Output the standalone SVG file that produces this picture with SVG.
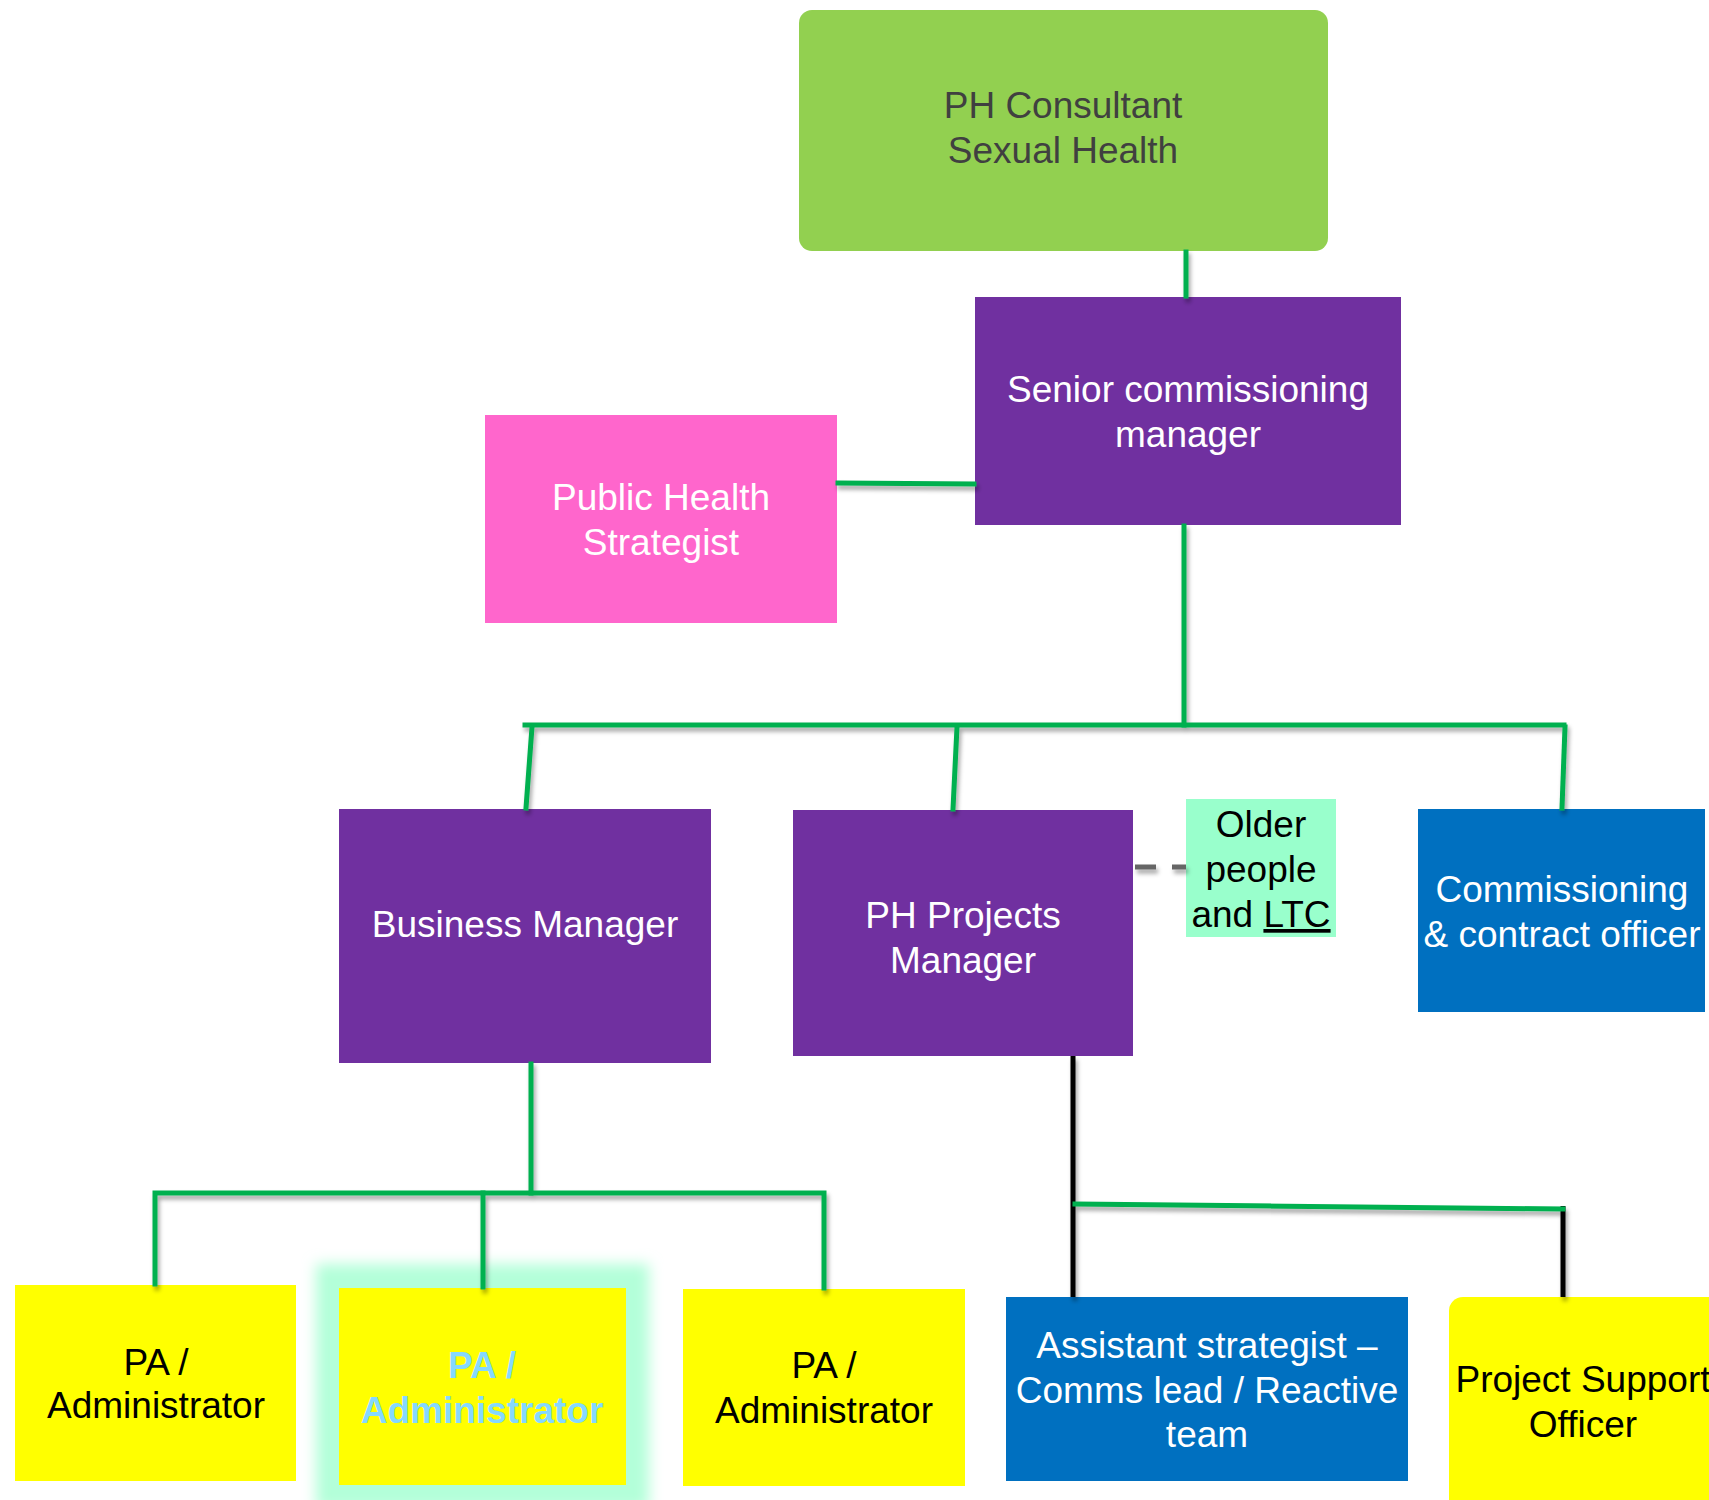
<svg xmlns="http://www.w3.org/2000/svg" width="1709" height="1500" viewBox="0 0 1709 1500">
<style>
.t{font-family:"Liberation Sans",Arial,sans-serif;font-size:37px;text-anchor:middle}
.w{fill:#ffffff}
.k{fill:#000000}
.g{stroke:#00B050;stroke-width:5;fill:none;stroke-linecap:square}
.b{stroke:#000000;stroke-width:5;fill:none}
</style>
<defs>
<filter id="sh" x="-20%" y="-20%" width="140%" height="140%">
<feDropShadow dx="2" dy="4" stdDeviation="2" flood-color="#000" flood-opacity="0.35"/>
</filter>
<filter id="glow" x="-30%" y="-30%" width="160%" height="160%">
<feGaussianBlur stdDeviation="7"/>
</filter>
</defs>
<rect width="1709" height="1500" fill="#ffffff"/>
<g id="n-consultant">
<rect x="799" y="10" width="529" height="241" rx="13" fill="#92D050"/>
<text class="t" x="1063" y="118" fill="#404040">PH Consultant</text>
<text class="t" x="1063" y="163" fill="#404040">Sexual Health</text>
</g>
<g id="n-senior">
<rect x="975" y="297" width="426" height="228" fill="#7030A0"/>
<text class="t w" x="1188" y="402">Senior commissioning</text>
<text class="t w" x="1188" y="447">manager</text>
</g>
<g id="n-strategist">
<rect x="485" y="415" width="352" height="208" fill="#FF66CC"/>
<text class="t w" x="661" y="510">Public Health</text>
<text class="t w" x="661" y="555">Strategist</text>
</g>
<g id="n-business">
<rect x="339" y="809" width="372" height="254" fill="#7030A0"/>
<text class="t w" x="525" y="937">Business Manager</text>
</g>
<g id="n-projects">
<rect x="793" y="810" width="340" height="246" fill="#7030A0"/>
<text class="t w" x="963" y="928">PH Projects</text>
<text class="t w" x="963" y="973">Manager</text>
</g>
<g id="n-older">
<rect x="1186" y="799" width="150" height="138" fill="#99FFCC"/>
<text class="t k" x="1261" y="837">Older</text>
<text class="t k" x="1261" y="882">people</text>
<text class="t k" x="1261" y="927">and <tspan text-decoration="underline">LTC</tspan></text>
</g>
<g id="n-commissioning">
<rect x="1418" y="809" width="287" height="203" fill="#0070C0"/>
<text class="t w" x="1562" y="902">Commissioning</text>
<text class="t w" x="1562" y="947">&amp; contract officer</text>
</g>
<g id="n-pa1">
<rect x="15" y="1285" width="281" height="196" fill="#FFFF00"/>
<text class="t k" x="156" y="1375">PA /</text>
<text class="t k" x="156" y="1418">Administrator</text>
</g>
<g id="n-pa2">
<rect x="316" y="1264" width="333" height="245" fill="#B3FFD9" filter="url(#glow)"/>
<rect x="339" y="1288" width="287" height="197" fill="#FFFF00"/>
<text class="t" x="482" y="1378" fill="#85D8FF" font-weight="bold">PA /</text>
<text class="t" x="482" y="1423" fill="#85D8FF" font-weight="bold">Administrator</text>
</g>
<g id="n-pa3">
<rect x="683" y="1289" width="282" height="197" fill="#FFFF00"/>
<text class="t k" x="824" y="1378">PA /</text>
<text class="t k" x="824" y="1423">Administrator</text>
</g>
<g id="n-assistant">
<rect x="1006" y="1297" width="402" height="184" fill="#0070C0"/>
<text class="t w" x="1207" y="1358">Assistant strategist –</text>
<text class="t w" x="1207" y="1403">Comms lead / Reactive</text>
<text class="t w" x="1207" y="1447">team</text>
</g>
<g id="n-support">
<rect x="1449" y="1297" width="300" height="230" rx="14" fill="#FFFF00"/>
<text class="t k" x="1583" y="1392">Project Support</text>
<text class="t k" x="1583" y="1437">Officer</text>
</g>
<g id="connectors" filter="url(#sh)">
<line class="g" x1="1186" y1="252" x2="1186" y2="296"/>
<line class="g" x1="838" y1="483" x2="974" y2="484"/>
<line class="g" x1="1184" y1="526" x2="1184" y2="725"/>
<line class="g" x1="525" y1="725" x2="1564" y2="725"/>
<line class="g" x1="532" y1="727" x2="526" y2="808"/>
<line class="g" x1="957" y1="727" x2="953" y2="809"/>
<line class="g" x1="1565" y1="727" x2="1562" y2="808"/>
<line x1="1135" y1="867" x2="1186" y2="867" stroke="#666666" stroke-width="5" stroke-dasharray="21 16"/>
<line class="g" x1="531" y1="1064" x2="531" y2="1193"/>
<polyline class="g" points="155,1284 155,1193 824,1193 824,1288"/>
<line class="g" x1="483" y1="1193" x2="483" y2="1287"/>
<line class="b" x1="1073" y1="1056" x2="1073" y2="1297"/>
<line class="b" x1="1563" y1="1206" x2="1563" y2="1297"/>
<line class="g" x1="1075" y1="1204" x2="1563" y2="1209"/>
</g>
</svg>
